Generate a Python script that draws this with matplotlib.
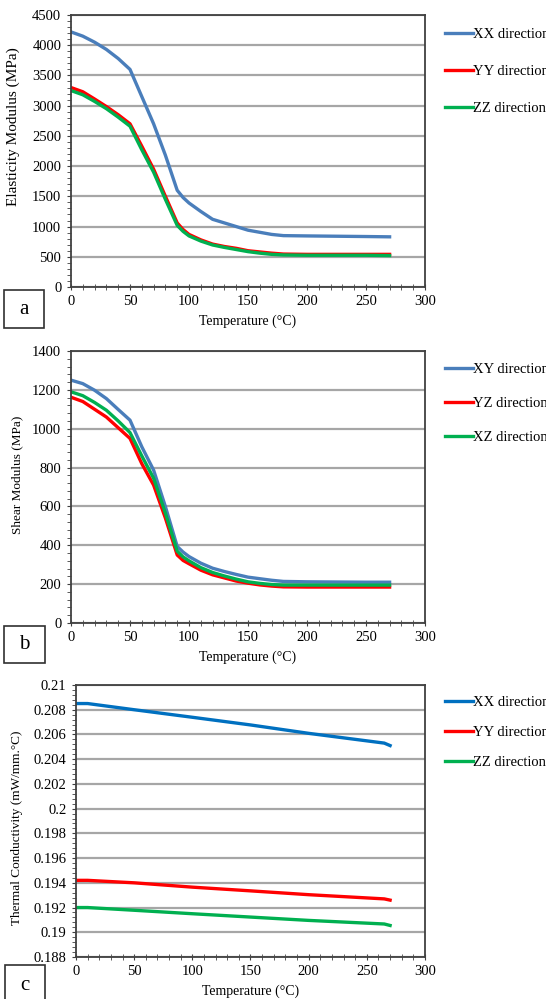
import numpy as np
import matplotlib
matplotlib.use("Agg")
import matplotlib.pyplot as plt
from matplotlib.patches import Rectangle
from matplotlib.ticker import MultipleLocator, FuncFormatter

# ─── Data ──────────────────────────────────────────────────────────
temp_ab = [0, 10, 20, 30, 40, 50, 60, 70, 80, 90, 95, 100, 110, 120,
           130, 140, 150, 160, 170, 180, 200, 225, 250, 270]

# a) elasticity modulus (MPa)
e_xx = [4220, 4150, 4050, 3930, 3780, 3600, 3150, 2700, 2180, 1600, 1480, 1390,
        1250, 1120, 1060, 1000, 940, 905, 870, 850, 845, 840, 835, 830]
e_yy = [3300, 3230, 3110, 2985, 2850, 2700, 2330, 1950, 1500, 1060, 950, 870,
        780, 710, 670, 640, 600, 580, 560, 545, 540, 540, 540, 540]
e_zz = [3250, 3180, 3070, 2950, 2810, 2660, 2270, 1900, 1450, 1020, 920, 845,
        760, 695, 655, 620, 585, 560, 540, 530, 525, 525, 525, 520]

# b) shear modulus (MPa)
g_xy = [1250, 1232, 1198, 1155, 1099, 1044, 907, 787, 599, 394, 365, 342,
        308, 282, 265, 250, 236, 228, 220, 214, 212, 211, 210, 210]
g_yz = [1162, 1140, 1100, 1060, 1005, 950, 820, 710, 540, 350, 322, 305,
        272, 248, 232, 216, 205, 196, 190, 186, 185, 185, 185, 185]
g_xz = [1190, 1170, 1135, 1095, 1040, 980, 860, 745, 565, 370, 340, 320,
        285, 260, 242, 226, 212, 204, 198, 195, 195, 195, 195, 195]

# c) thermal conductivity (mW/mm.°C)
temp_c = [0, 10, 50, 100, 150, 200, 265, 270]
k_xx = [0.2085, 0.2085, 0.2080, 0.20739, 0.20677, 0.20609, 0.2053, 0.2051]
k_yy = [0.1942, 0.1942, 0.1940, 0.19365, 0.19335, 0.19304, 0.1927, 0.1926]
k_zz = [0.1920, 0.1920, 0.19178, 0.1915, 0.19123, 0.19096, 0.19067, 0.19055]

BLUE = '#4A7EBB'
BLUE_C = '#0070C0'
RED = '#FF0000'
GREEN = '#00B050'

plt.rcParams['font.family'] = ['Liberation Serif', 'DejaVu Serif']

W, H = 546, 999
fig = plt.figure(figsize=(W / 100, H / 100), dpi=100)


def style_axes(ax, ymajor, yminor, ylim, ylabel, ylabel_size, ylabel_xy):
    ax.set_xlim(0, 300)
    ax.set_ylim(*ylim)
    ax.xaxis.set_major_locator(MultipleLocator(50))
    ax.xaxis.set_minor_locator(MultipleLocator(10))
    ax.yaxis.set_major_locator(MultipleLocator(ymajor))
    ax.yaxis.set_minor_locator(MultipleLocator(yminor))
    ax.grid(axis='y', which='major', color='#A6A6A6', linewidth=1.6)
    ax.set_axisbelow(True)
    for s in ax.spines.values():
        s.set_color('#404040')
        s.set_linewidth(1.3)
    ax.tick_params(axis='both', which='major', labelsize=10.5, length=3,
                   color='#404040', pad=4)
    ax.tick_params(axis='both', which='minor', length=3, color='#404040')
    ax.tick_params(axis='x', which='both', direction='inout', length=4)
    ax.set_ylabel(ylabel, fontsize=ylabel_size)
    ax.yaxis.set_label_coords(*ylabel_xy)
    ax.set_xlabel('Temperature (°C)', fontsize=10)
    ax.xaxis.set_label_coords(0.5, -0.1)


def add_legend(ax, y_top, spacing):
    ax.legend(loc='upper left', bbox_to_anchor=(445 / W, 1 - y_top / H),
              bbox_transform=fig.transFigure, frameon=False, fontsize=10.5,
              handlelength=1.92, handletextpad=0.0, labelspacing=spacing,
              borderaxespad=0, borderpad=0)


def tag(letter, x0, y0, x1, y1):
    fig.add_artist(Rectangle((x0 / W, 1 - y1 / H), (x1 - x0) / W, (y1 - y0) / H,
                             transform=fig.transFigure, fc='white', ec='#303030', lw=1.2))
    fig.text((x0 + x1) / 2 / W, 1 - (y0 + y1) / 2 / H, letter, fontsize=15,
             ha='center', va='center')


# ─── a: elasticity modulus ─────────────────────────────────────────
ax1 = fig.add_axes([71 / W, 1 - 287 / H, 354 / W, 272 / H])
ax1.plot(temp_ab, e_xx, color=BLUE, lw=2.4, label='XX direction')
ax1.plot(temp_ab, e_yy, color=RED, lw=2.4, label='YY direction')
ax1.plot(temp_ab, e_zz, color=GREEN, lw=2.4, label='ZZ direction')
style_axes(ax1, 500, 100, (0, 4500), 'Elasticity Modulus (MPa)', 11, (-0.144, 0.588))
add_legend(ax1, 28, 1.62)
tag('a', 4, 290, 44, 328)

# ─── b: shear modulus ──────────────────────────────────────────────
ax2 = fig.add_axes([71 / W, 1 - 623 / H, 354 / W, 272 / H])
ax2.plot(temp_ab, g_xy, color=BLUE, lw=2.4, label='XY direction')
ax2.plot(temp_ab, g_yz, color=RED, lw=2.4, label='YZ direction')
ax2.plot(temp_ab, g_xz, color=GREEN, lw=2.4, label='XZ direction')
style_axes(ax2, 200, 40, (0, 1400), 'Shear Modulus (MPa)', 9.5, (-0.136, 0.544))
add_legend(ax2, 363, 1.42)
tag('b', 4, 626, 45, 663)

# ─── c: thermal conductivity ───────────────────────────────────────
ax3 = fig.add_axes([76 / W, 1 - 957 / H, 349 / W, 272 / H])
ax3.plot(temp_c, k_xx, color=BLUE_C, lw=2.4, label='XX direction')
ax3.plot(temp_c, k_yy, color=RED, lw=2.4, label='YY direction')
ax3.plot(temp_c, k_zz, color=GREEN, lw=2.4, label='ZZ direction')
style_axes(ax3, 0.002, 0.0004, (0.188, 0.21), 'Thermal Conductivity (mW/mm.°C)', 9.5,
           (-0.152, 0.474))
ax3.yaxis.set_major_formatter(FuncFormatter(lambda v, _: f'{round(v, 4):g}'))
add_legend(ax3, 696, 1.14)
tag('c', 5, 965, 45, 1005)

fig.savefig('out.png', dpi=100)
